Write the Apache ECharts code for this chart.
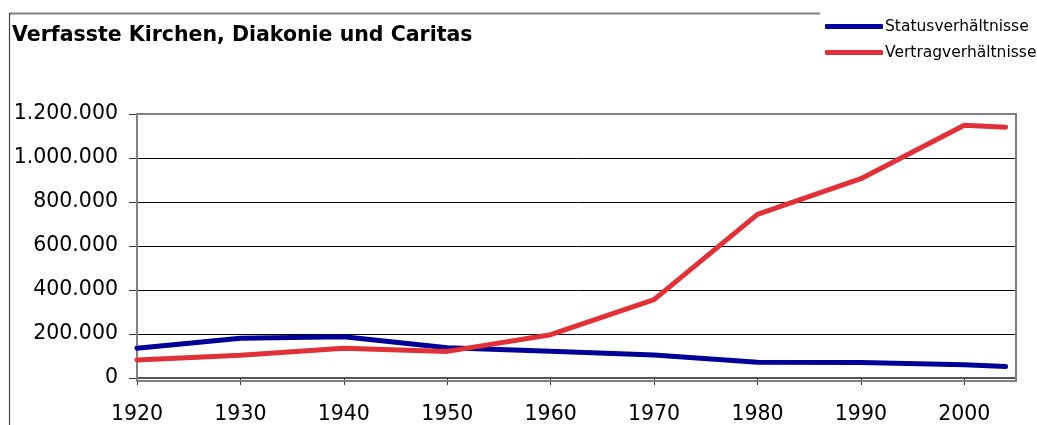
<!DOCTYPE html>
<html>
<head>
<meta charset="utf-8">
<script src="https://cdn.jsdelivr.net/npm/echarts@6/dist/echarts.min.js"></script>
<style>
html,body{margin:0;padding:0;background:#fff;}
#c{width:1037px;height:425px;}
</style>
</head>
<body>
<div id="c"></div>
<script>
const years = [1920, 1930, 1940, 1950, 1960, 1970, 1980, 1990, 2000, 2004];
const statusValues = [135000, 181000, 187000, 137000, 122000, 105000, 72000, 70000, 60000, 52000];
const vertragValues = [82000, 103000, 135000, 121000, 197000, 356000, 744000, 906000, 1149000, 1140000];
const xTicks = [1920, 1930, 1940, 1950, 1960, 1970, 1980, 1990, 2000];
const seriesNames = ['Statusverhältnisse', 'Vertragverhältnisse'];
const titleText = 'Verfasste Kirchen, Diakonie und Caritas';

const chart = echarts.init(document.getElementById('c'), null, {renderer: 'canvas'});
const FONT = 'DejaVu Sans';
function fmt(v) {
  return String(v).replace(/\B(?=(\d{3})+(?!\d))/g, '.');
}
chart.setOption({
  animation: false,
  backgroundColor: '#fff',
  title: {
    text: titleText,
    left: 12, top: 25, padding: 0,
    textStyle: {fontFamily: FONT, fontWeight: 'bold', fontSize: 20.5, color: '#000'}
  },
  legend: {
    orient: 'vertical',
    left: 825, top: 18,
    itemWidth: 58, itemHeight: 5, itemGap: 9,
    icon: 'roundRect',
    backgroundColor: '#fff',
    padding: 0,
    textStyle: {fontFamily: FONT, fontSize: 15.5, color: '#000', padding: [0, 0, 0, -3], lineHeight: 17},
    data: seriesNames
  },
  graphic: [
    {type: 'line', shape: {x1: 9, y1: 13.5, x2: 820, y2: 13.5}, style: {stroke: '#808080', lineWidth: 2}, z: -1},
    {type: 'line', shape: {x1: 9.5, y1: 13, x2: 9.5, y2: 425}, style: {stroke: '#444', lineWidth: 1.2}, z: -1},
    {type: 'rect', shape: {x: 137, y: 114, width: 879, height: 267}, style: {fill: 'none', stroke: '#808080', lineWidth: 2}, z: 1}
  ],
  grid: {left: 137, top: 114, right: 21, bottom: 44, containLabel: false},
  xAxis: {
    type: 'value', min: 1920, max: 2005, interval: 10,
    splitLine: {show: false},
    axisLine: {show: true, lineStyle: {color: '#555', width: 2}},
    axisTick: {show: true, length: 7, customValues: xTicks, lineStyle: {color: '#333', width: 1}},
    axisLabel: {fontFamily: FONT, fontSize: 20.5, color: '#000', margin: 26, customValues: xTicks, formatter: v => String(v)}
  },
  yAxis: {
    type: 'value', min: 0, max: 1200000, interval: 200000,
    splitLine: {show: true, lineStyle: {color: '#000', width: 1}},
    axisLine: {show: true, lineStyle: {color: '#666', width: 2}},
    axisTick: {show: true, length: 8, lineStyle: {color: '#333', width: 1}},
    axisLabel: {fontFamily: FONT, fontSize: 20.5, color: '#000', margin: 19, padding: [4, 0, 0, 0], formatter: fmt}
  },
  series: [
    {
      name: seriesNames[0], type: 'line', showSymbol: false, symbol: 'none',
      data: years.map((y, i) => [y, statusValues[i]]),
      lineStyle: {color: '#000096', width: 5, cap: 'round', join: 'round'},
      itemStyle: {color: '#000096'}, z: 3
    },
    {
      name: seriesNames[1], type: 'line', showSymbol: false, symbol: 'none',
      data: years.map((y, i) => [y, vertragValues[i]]),
      lineStyle: {color: '#E03038', width: 5, cap: 'round', join: 'round'},
      itemStyle: {color: '#E03038'}, z: 4
    }
  ]
});
</script>
</body>
</html>
